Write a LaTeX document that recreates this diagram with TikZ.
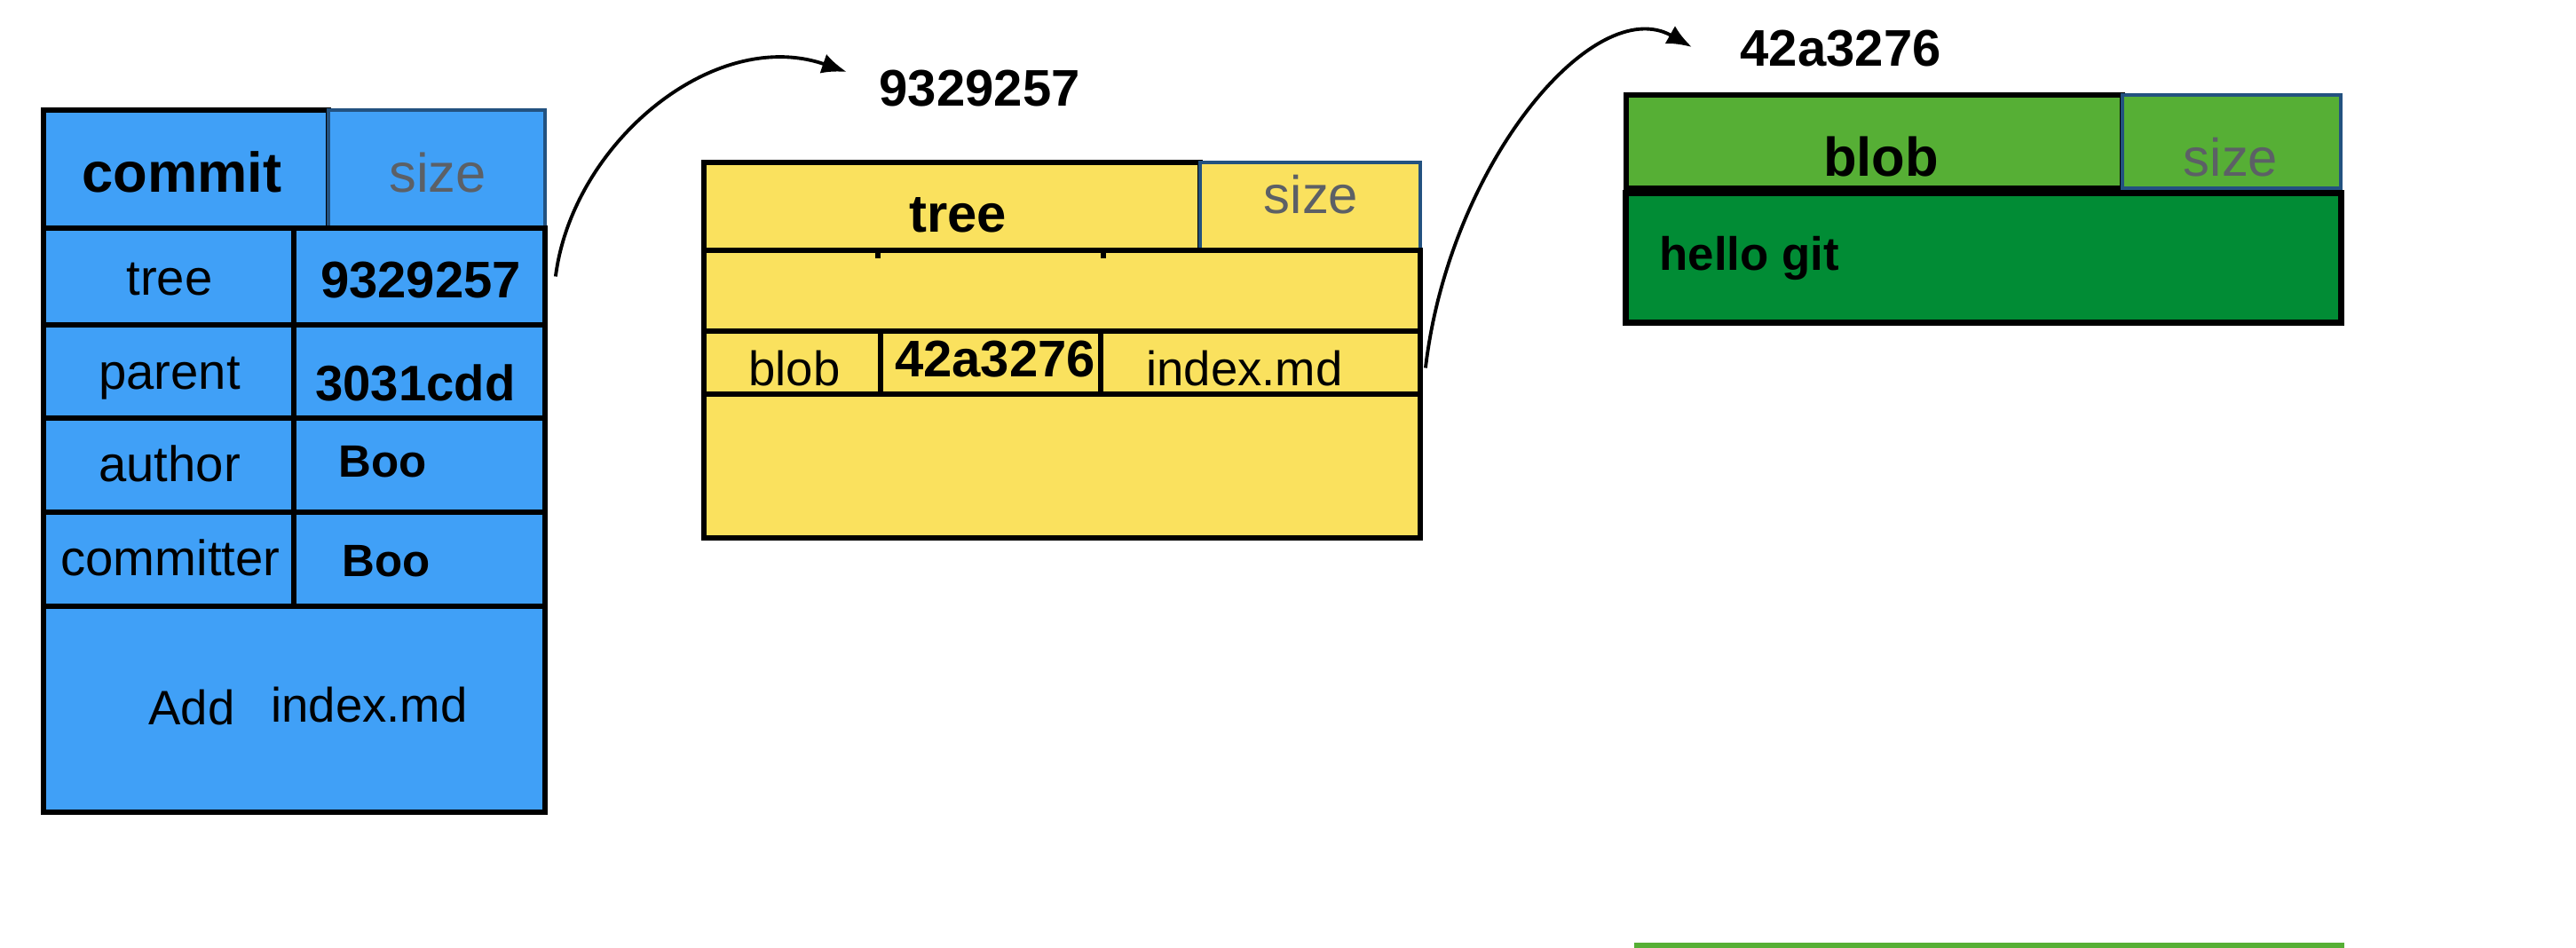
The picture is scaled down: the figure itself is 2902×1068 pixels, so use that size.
\documentclass[tikz,border=0pt]{standalone}
\usepackage{fontspec}
\setmainfont{Liberation Sans}
\usetikzlibrary{arrows.meta}

\definecolor{commitblue}{RGB}{64,160,247}
\definecolor{treeyellow}{RGB}{250,225,94}
\definecolor{blobgreen}{RGB}{86,175,53}
\definecolor{bodygreen}{RGB}{1,140,53}
\definecolor{sizeblue}{RGB}{35,82,128}
\definecolor{sizegray}{RGB}{92,96,102}

\tikzset{
  cell/.style={draw, line width=1.6pt, inner sep=0pt},
  sizecell/.style={draw=sizeblue, line width=1.3pt, inner sep=0pt},
  txt/.style={inner sep=0pt, anchor=base},
  key/.style={txt, font=\fontsize{16}{19}\selectfont},
  val/.style={txt, font=\bfseries\fontsize{16}{19}\selectfont},
  head/.style={txt, font=\bfseries\fontsize{18}{21}\selectfont},
  sz/.style={txt, text=sizegray, font=\fontsize{17.5}{21}\selectfont},
  link/.style={line width=1.1pt, -{Latex[length=8pt,width=6.5pt]}}
}

\begin{document}
\begin{tikzpicture}[x=0.01cm, y=-0.01cm]
    \useasboundingbox (0,0) rectangle (2902,1068);
    % commit object
    \node[cell, fill=commitblue, minimum width=3.21cm, minimum height=1.33cm] (c-commit) at (209.5,190.5) {};
    \node[sizecell, fill=commitblue, minimum width=2.44cm, minimum height=1.33cm] (c-size) at (492,190.5) {};
    \node[cell, fill=commitblue, minimum width=2.82cm, minimum height=1.09cm] (c-treek) at (190,311.5) {};
    \node[cell, fill=commitblue, minimum width=2.83cm, minimum height=1.09cm] (c-treev) at (472.5,311.5) {};
    \node[cell, fill=commitblue, minimum width=2.82cm, minimum height=1.05cm] (c-parentk) at (190,418.5) {};
    \node[cell, fill=commitblue, minimum width=2.83cm, minimum height=1.05cm] (c-parentv) at (472.5,418.5) {};
    \node[cell, fill=commitblue, minimum width=2.82cm, minimum height=1.06cm] (c-authork) at (190,524) {};
    \node[cell, fill=commitblue, minimum width=2.83cm, minimum height=1.06cm] (c-authorv) at (472.5,524) {};
    \node[cell, fill=commitblue, minimum width=2.82cm, minimum height=1.06cm] (c-committerk) at (190,630) {};
    \node[cell, fill=commitblue, minimum width=2.83cm, minimum height=1.06cm] (c-committerv) at (472.5,630) {};
    \node[cell, fill=commitblue, minimum width=5.65cm, minimum height=2.32cm] (c-msg) at (331.5,799) {};

    \node[head] (c-title) at (205,216.5) {commit};
    \node[sz] (c-sizetxt) at (493,216.5) {size};
    \node[key] (c-tree) at (191,333) {tree};
    \node[val, font=\bfseries\fontsize{16.5}{19}\selectfont] (c-treeid) at (474,336) {9329257};
    \node[key] (c-parent) at (191,439) {parent};
    \node[val] (c-parentid) at (468,452) {3031cdd};
    \node[key] (c-author) at (191,543) {author};
    \node[val, font=\bfseries\fontsize{14.5}{17}\selectfont] (c-authorname) at (431,538) {Boo};
    \node[key] (c-committer) at (192,649) {committer};
    \node[val, font=\bfseries\fontsize{14.5}{17}\selectfont] (c-committername) at (435,650) {Boo};
    \node[key, font=\fontsize{15.5}{18}\selectfont] (c-add) at (216,816.5) {Add};
    \node[key, font=\fontsize{15.5}{18}\selectfont] (c-file) at (416,814) {index.md};

    % tree object
    \node[val, anchor=base west, font=\bfseries\fontsize{16.5}{19}\selectfont] (t-id) at (990,120) {9329257};
    \node[cell, fill=treeyellow, minimum width=5.59cm, minimum height=0.99cm] (t-tree) at (1072.5,232.5) {};
    \node[sizecell, fill=treeyellow, minimum width=2.48cm, minimum height=0.99cm] (t-size) at (1476,232.5) {};
    \node[cell, fill=treeyellow, minimum width=8.07cm, minimum height=0.91cm] (t-row1) at (1196.5,327.5) {};
    \node[cell, fill=treeyellow, minimum width=1.99cm, minimum height=0.71cm] (t-type) at (892.5,408.5) {};
    \node[cell, fill=treeyellow, minimum width=2.48cm, minimum height=0.71cm] (t-hash) at (1116,408.5) {};
    \node[cell, fill=treeyellow, minimum width=3.60cm, minimum height=0.71cm] (t-name) at (1420,408.5) {};
    \node[cell, fill=treeyellow, minimum width=8.07cm, minimum height=1.62cm] (t-row3) at (1196.5,525) {};
    \draw[line width=1.6pt] (t-row1.north -| t-hash.west) -- ++(0,12);
    \draw[line width=1.6pt] (t-row1.north -| t-hash.east) -- ++(0,12);

    \node[head, font=\bfseries\fontsize{17}{20}\selectfont] (t-title) at (1079,262) {tree};
    \node[sz, font=\fontsize{17}{20}\selectfont] (t-sizetxt) at (1477,241) {size};
    \node[key, font=\fontsize{15.5}{18}\selectfont] (t-blob) at (895,435) {blob};
    \node[val, font=\bfseries\fontsize{16.5}{19}\selectfont] (t-blobid) at (1121,425) {42a3276};
    \node[key, font=\fontsize{15.5}{18}\selectfont] (t-file) at (1402,435) {index.md};

    % blob object
    \node[val, anchor=base west, font=\bfseries\fontsize{16.5}{19}\selectfont] (b-id) at (1960,75) {42a3276};
    \node[cell, fill=blobgreen, minimum width=5.59cm, minimum height=1.05cm] (b-blob) at (2111.5,159.5) {};
    \node[sizecell, fill=blobgreen, minimum width=2.46cm, minimum height=1.05cm] (b-size) at (2514,159.5) {};
    \node[cell, fill=bodygreen, line width=2pt, minimum width=8.05cm, minimum height=1.45cm] (b-body) at (2234.5,290.5) {};

    \node[head, font=\bfseries\fontsize{17.5}{20}\selectfont] (b-title) at (2119,199) {blob};
    \node[sz, font=\fontsize{17}{20}\selectfont] (b-sizetxt) at (2513,199) {size};
    \node[val, anchor=base west, font=\bfseries\fontsize{15}{18}\selectfont] (b-content) at (1869,305) {hello git};

    \fill[blobgreen] (1841,1062) rectangle (2641,1068);

    % pointers
    \draw[link] ([shift={(9,0)}]c-treev.east) .. controls +(19,-150) and +(-150,-52) .. ([shift={(-36,-19)}]t-id.west);
    \draw[link] ([shift={(3,6)}]t-name.east) .. controls +(27,-230) and +(-110,-62) .. ([shift={(-54,-2)}]b-id.west);
\end{tikzpicture}
\end{document}
